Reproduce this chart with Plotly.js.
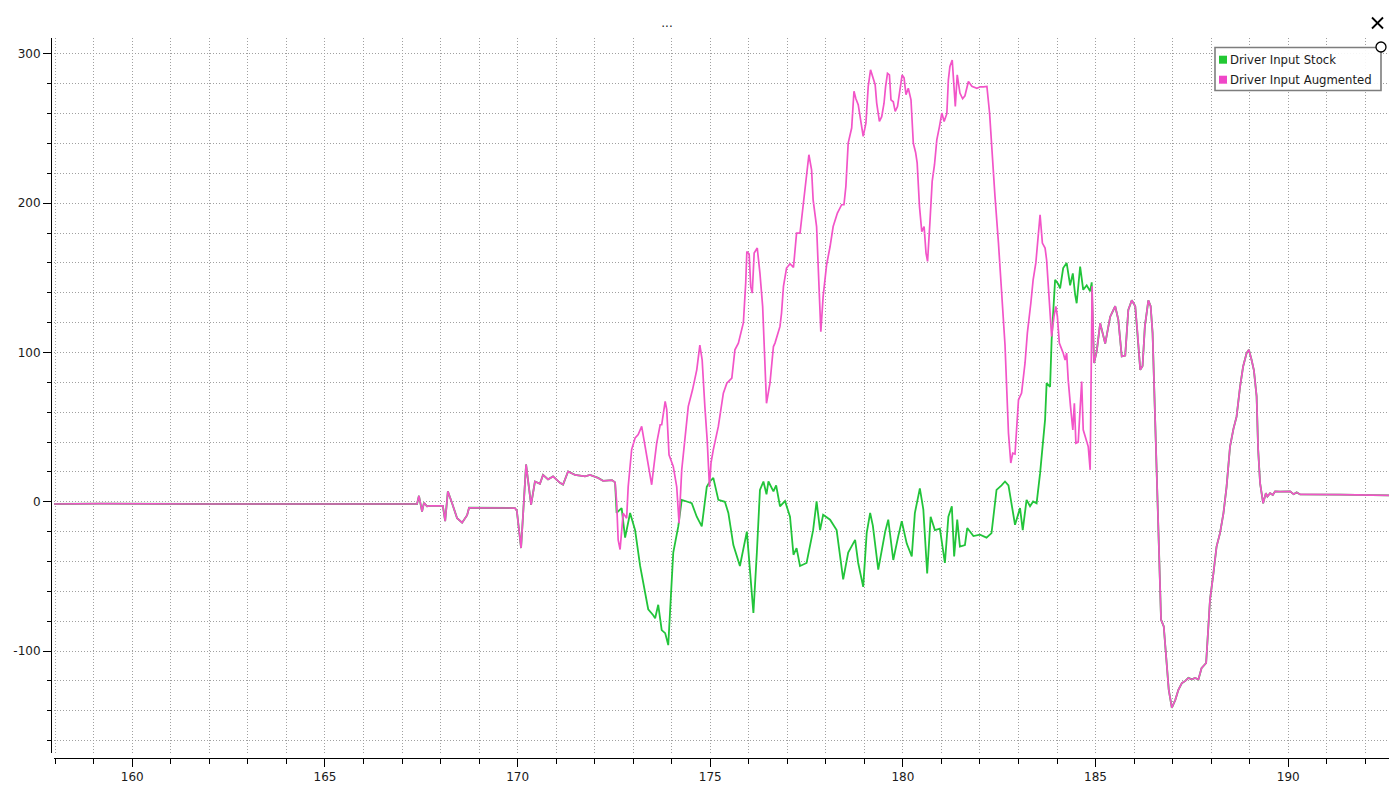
<!DOCTYPE html>
<html>
<head>
<meta charset="utf-8">
<script src="https://cdn.plot.ly/plotly-3.0.1.min.js"></script>
<style>
  html, body { margin: 0; padding: 0; background: #fff; }
  #chart { width: 1399px; height: 790px; }
</style>
</head>
<body>
<div id="chart"></div>
<script>
// ---- Data (time in s, driver input) ----
// Section where both series coincide (start)
const commonStartX = [157.92,159.16,161.76,164.35,166.43,167.39,167.44,167.52,167.57,167.65,167.73,168.06,168.12,168.19,168.30,168.43,168.56,168.69,168.74,169.28,169.93,169.98,170.09,170.22,170.35,170.45,170.58,170.66,170.79,170.92,171.10,171.18,171.31,171.49,171.75,171.88,172.09,172.22,172.45,172.53];
const commonStartY = [-1.5,-1.3,-1.5,-1.6,-1.5,-1.5,4,-6.5,-0.7,-3,-2.7,-2.7,-13,7,-1,-11,-14,-9,-4,-4.2,-4.2,-6,-31,25,-2,13.6,12,18,15,17,12.7,11.5,20.3,18,17,18,16,14,14.5,13];

// Stock only section
const stockMidX = [172.57,172.70,172.79,172.92,173.05,173.18,173.31,173.39,173.52,173.57,173.65,173.74,173.83,173.91,173.96,174.04,174.17,174.26,174.39,174.52,174.65,174.78,174.91,174.99,175.08,175.21,175.38,175.47,175.60,175.77,175.95,176.12,176.21,176.29,176.38,176.46,176.51,176.64,176.71,176.81,176.94,177.07,177.16,177.24,177.33,177.50,177.67,177.76,177.85,177.93,178.11,178.28,178.45,178.58,178.76,178.84,178.97,179.06,179.15,179.22,179.36,179.54,179.62,179.75,179.88,179.97,180.10,180.23,180.31,180.44,180.53,180.63,180.72,180.83,180.96,181.09,181.18,181.27,181.33,181.41,181.48,181.61,181.67,181.83,182.00,182.17,182.30,182.43,182.56,182.65,182.74,182.82,182.91,183.04,183.11,183.21,183.30,183.38,183.47,183.56,183.64,183.69,183.73,183.82,183.86,183.95,184.03,184.08,184.16,184.25,184.34,184.41,184.47,184.51,184.60,184.68,184.77,184.86,184.90];
const stockMidY = [-7.5,-4.2,-24,-7.5,-19,-43,-61,-72,-76,-78,-69,-86,-88,-96,-72,-34,-16.5,1.3,0.2,-1,-10,-16.5,10,13.6,16,1.3,0,-7.5,-29,-43,-20,-74.5,-34,8,13.6,5,13.6,7,11,-3,0.5,-10,-35.5,-31,-43,-41,-19,0.2,-19,-8.7,-12,-19,-52,-34,-25.5,-41,-57,-21,-7.5,-16,-45.5,-20,-12,-39,-23,-13,-28,-36.6,-7.6,9,-5,-48,-10,-19,-18,-41,-10,-3,-36.6,-12,-30,-29,-17.6,-23,-22,-24,-21,8,11,13.6,11,-3,-15.4,-4.2,-19,1.3,-3,0.2,-1,19,44,55,79.5,77,108.5,148.7,146,143,156.6,160,145,153,138.7,133,157.6,142,145,141,147];

// Augmented only section
const augMidX = [172.57,172.61,172.66,172.74,172.83,172.87,172.96,173.05,173.13,173.22,173.31,173.39,173.48,173.52,173.61,173.70,173.74,173.83,173.87,173.93,174.04,174.13,174.19,174.26,174.35,174.43,174.54,174.65,174.73,174.79,174.86,174.92,174.98,175.02,175.08,175.21,175.34,175.43,175.56,175.64,175.73,175.86,175.92,175.95,176.01,176.05,176.09,176.14,176.22,176.29,176.36,176.40,176.46,176.55,176.64,176.68,176.77,176.81,176.85,176.90,176.98,177.07,177.16,177.24,177.33,177.38,177.43,177.50,177.56,177.63,177.67,177.76,177.80,177.87,177.93,178.02,178.11,178.19,178.30,178.41,178.47,178.52,178.58,178.67,178.73,178.78,178.84,178.90,178.97,179.04,179.10,179.16,179.22,179.28,179.32,179.39,179.45,179.51,179.55,179.60,179.65,179.69,179.75,179.80,179.86,179.92,179.98,180.03,180.08,180.14,180.21,180.27,180.33,180.37,180.43,180.49,180.55,180.60,180.64,180.70,180.76,180.82,180.88,180.95,181.01,181.07,181.14,181.18,181.22,181.28,181.33,181.36,181.41,181.48,181.55,181.61,181.70,181.79,181.92,182.01,182.09,182.18,182.25,182.31,182.39,182.48,182.56,182.65,182.74,182.80,182.85,182.91,183.00,183.08,183.17,183.23,183.32,183.38,183.45,183.50,183.56,183.62,183.69,183.73,183.79,183.86,183.92,183.97,184.01,184.06,184.16,184.21,184.25,184.29,184.35,184.41,184.45,184.49,184.55,184.60,184.64,184.68,184.75,184.81,184.86,184.89,184.91];
const augMidY = [0.2,-25.5,-32,-7.6,-11,10,35,42.7,45,50.5,37,26,11.4,20.3,39.3,51.6,51.6,67.2,62,31.5,23.7,10,-14.3,21.4,46,63.9,75,88.4,105,95,63.9,41.5,10,26,35,50.5,72.8,79.5,82.9,101.8,106.3,120,146.5,167.7,166,144.3,139.8,166.6,170,153,130.9,99.6,66,79.5,104,106.3,113,117.5,126.4,144.3,156.6,159.5,157,180,180,192.3,202.3,218,232.5,222.4,202.3,184.4,162,114,137.6,158.8,171,184.4,193.4,199,199,211.3,240.3,250.4,275,270,266,257,244.8,253.7,278.3,289.4,283.9,279.4,267.1,254.8,258,267,278,287,286,269.3,268,261.5,264.8,276,286,284,272.7,277,269.3,240.3,234,227,197.9,181,184.4,166.6,161,186.7,214.6,225.8,242.5,251.5,260.4,254.8,260,282.7,291.7,296,273.8,264.8,286,273.8,270,272,281.6,278.3,277,278,278,278.3,260.4,233.6,204.6,173.3,140,105,46,26,32.6,32,68.3,72.8,93,113,133,148.7,160,177.8,192.3,173.3,170,162,139.8,110.8,124,130.9,124,106.3,99.6,95,99.6,81.7,63.9,48.2,66,39.3,40,63.9,80.6,48.2,41.5,37,21.4,77,144.3];

// Section where both series coincide (end)
const commonEndX = [184.96,185.03,185.12,185.25,185.38,185.51,185.59,185.68,185.77,185.85,185.94,186.03,186.09,186.16,186.22,186.28,186.37,186.43,186.48,186.52,186.56,186.60,186.70,186.77,186.83,186.90,186.98,187.07,187.15,187.24,187.33,187.41,187.50,187.58,187.67,187.75,187.87,187.90,187.97,188.06,188.14,188.23,188.32,188.40,188.49,188.58,188.66,188.75,188.83,188.92,188.98,189.05,189.11,189.18,189.22,189.27,189.31,189.35,189.42,189.46,189.53,189.60,189.66,189.79,190.05,190.14,190.22,190.31,191.34,192.62];
const commonEndY = [93,100.7,119.7,106,124,131,122,97.4,98,128.6,135,131,113,88.4,91,117.5,135,131,113,77,30,0,-79,-83.5,-101,-126,-138,-132.7,-126,-121.5,-120,-118,-119,-118,-119,-111.5,-108,-92.5,-65.7,-47.8,-30,-21,-7.6,10,37,49,57,77,90.6,99.6,101.8,95,88,70.6,35,12.5,5.8,-1,5.8,3.5,5.8,4.5,7,6.8,7,5.1,6.3,4.9,4.8,4.3];

const seriesNames = ['Driver Input Stock', 'Driver Input Augmented'];
const seriesColors = ['#22c43a', '#f254c8'];
const legendColors = ['#22c833', '#f046c8'];

const yTickVals = [-100, 0, 100, 200, 300];
const yTickText = ['-100', '0', '100', '200', '300'];
const xTickVals = [160, 165, 170, 175, 180, 185, 190];
const xTickText = ['160', '165', '170', '175', '180', '185', '190'];

// ---- Build traces ----
const stockX = commonStartX.concat(stockMidX, commonEndX);
const stockY = commonStartY.concat(stockMidY, commonEndY);
const augX = commonStartX.concat(augMidX, commonEndX);
const augY = commonStartY.concat(augMidY, commonEndY);

const traces = [
  { x: stockX, y: stockY, type: 'scatter', mode: 'lines', name: seriesNames[0],
    line: { color: seriesColors[0], width: 1.8 }, showlegend: false, hoverinfo: 'skip' },
  { x: augX, y: augY, type: 'scatter', mode: 'lines', name: seriesNames[1],
    line: { color: seriesColors[1], width: 1.7 }, showlegend: false, hoverinfo: 'skip' }
];

// ---- Geometry helpers (pixel -> paper) ----
const W = 1399, H = 790, ML = 51, MR = 10, MT = 38, MB = 32;
const PW = W - ML - MR, PH = H - MT - MB;
const px = v => (v - ML) / PW;
const py = v => (H - MB - v) / PH;

const gridStyle = { showgrid: true, gridcolor: '#a0a0a0', gridwidth: 1, griddash: '1px,2px' };
const fontFam = 'DejaVu Sans, sans-serif';

const layout = {
  width: W, height: H,
  margin: { l: ML, r: MR, t: MT, b: MB, pad: 0 },
  paper_bgcolor: '#ffffff', plot_bgcolor: '#ffffff',
  font: { family: fontFam, size: 12, color: '#1a1a1a' },
  title: { text: '...', x: 667 / W, xanchor: 'center', y: 1 - 23 / H, yanchor: 'middle',
           font: { family: fontFam, size: 12, color: '#1a1a1a' } },
  showlegend: false,
  xaxis: Object.assign({
    domain: [3 / PW, 1],
    range: [157.968, 192.616],
    anchor: 'free', position: 0,
    showline: true, linecolor: '#000', linewidth: 1,
    zeroline: false,
    tickmode: 'array', tickvals: xTickVals, ticktext: xTickText,
    ticks: 'outside', ticklen: 8, tickcolor: '#000', tickwidth: 1,
    tickfont: { family: fontFam, size: 12, color: '#1a1a1a' },
    minor: Object.assign({ tickmode: 'linear', tick0: 0, dtick: 1, ticks: 'outside', ticklen: 5, tickcolor: '#000' }, gridStyle),
    fixedrange: true
  }, gridStyle),
  yaxis: Object.assign({
    domain: [5 / PH, 1],
    range: [-168.3, 310.7],
    anchor: 'free', position: 0,
    showline: true, linecolor: '#000', linewidth: 1,
    zeroline: false,
    tickmode: 'array', tickvals: yTickVals, ticktext: yTickText,
    ticks: 'outside', ticklen: 8, tickcolor: '#000', tickwidth: 1,
    tickfont: { family: fontFam, size: 12, color: '#1a1a1a' },
    minor: Object.assign({ tickmode: 'linear', tick0: 0, dtick: 20, ticks: 'outside', ticklen: 4, tickcolor: '#000' }, gridStyle),
    fixedrange: true
  }, gridStyle),
  shapes: [
    // legend box
    { type: 'rect', xref: 'paper', yref: 'paper', x0: px(1215), x1: px(1381), y0: py(47.5), y1: py(90.5),
      line: { color: '#7d7d7d', width: 1.6 }, fillcolor: 'rgba(255,255,255,0.9)', layer: 'above' },
    // legend swatches
    { type: 'rect', xref: 'paper', yref: 'paper', x0: px(1219), x1: px(1227), y0: py(55.7), y1: py(63.7),
      line: { width: 0 }, fillcolor: legendColors[0], layer: 'above' },
    { type: 'rect', xref: 'paper', yref: 'paper', x0: px(1219), x1: px(1227), y0: py(75.7), y1: py(83.7),
      line: { width: 0 }, fillcolor: legendColors[1], layer: 'above' },
    // resize handle circle
    { type: 'circle', xref: 'paper', yref: 'paper', x0: px(1376), x1: px(1386), y0: py(42), y1: py(52),
      line: { color: '#000', width: 1.3 }, fillcolor: '#ffffff', layer: 'above' },
    // close cross
    { type: 'line', xref: 'paper', yref: 'paper', x0: px(1372), x1: px(1383), y0: py(17.5), y1: py(28.5),
      line: { color: '#000', width: 1.8 }, layer: 'above' },
    { type: 'line', xref: 'paper', yref: 'paper', x0: px(1383), x1: px(1372), y0: py(17.5), y1: py(28.5),
      line: { color: '#000', width: 1.8 }, layer: 'above' }
  ],
  annotations: [
    { text: seriesNames[0], xref: 'paper', yref: 'paper', x: px(1228), y: py(60), xanchor: 'left', yanchor: 'middle',
      showarrow: false, font: { family: fontFam, size: 11.7, color: '#1a1a1a' } },
    { text: seriesNames[1], xref: 'paper', yref: 'paper', x: px(1228), y: py(80), xanchor: 'left', yanchor: 'middle',
      showarrow: false, font: { family: fontFam, size: 11.7, color: '#1a1a1a' } }
  ]
};

Plotly.newPlot('chart', traces, layout, { displayModeBar: false, staticPlot: true });
</script>
</body>
</html>
